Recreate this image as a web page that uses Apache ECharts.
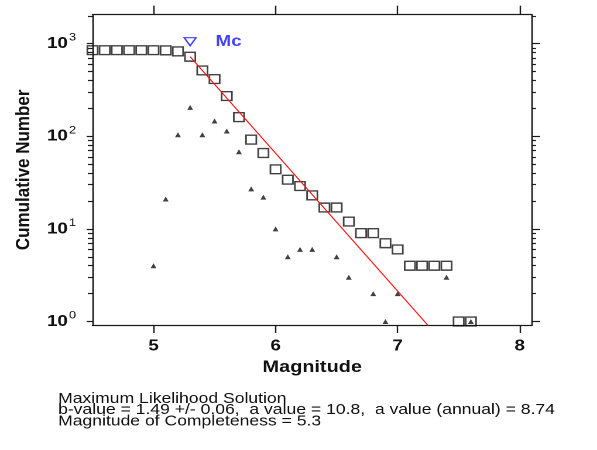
<!DOCTYPE html>
<html>
<head>
<meta charset="utf-8">
<script src="https://cdn.jsdelivr.net/npm/echarts@6/dist/echarts.min.js"></script>
<style>
  html, body { margin: 0; padding: 0; background: #fff; overflow: hidden; }
  #wrap { width: 597px; height: 450px; overflow: hidden; }
  /* the plot is laid out on a 510px-wide canvas and widened to the full page */
  #chart { width: 510px; height: 450px; transform: scaleX(1.1706); transform-origin: 0 0; }
</style>
</head>
<body>
<div id="wrap"><div id="chart"></div></div>
<script>
// Cumulative frequency-magnitude distribution (Gutenberg-Richter)
const magnitudes = [4.5, 4.6, 4.7, 4.8, 4.9, 5.0, 5.1, 5.2, 5.3, 5.4, 5.5, 5.6, 5.7, 5.8, 5.9, 6.0,
                    6.1, 6.2, 6.3, 6.4, 6.5, 6.6, 6.7, 6.8, 6.9, 7.0, 7.1, 7.2, 7.3, 7.4, 7.5, 7.6];
const cumulativeCounts = [851, 851, 851, 851, 851, 851, 847, 826, 723, 514, 415, 272, 161, 92, 66, 44,
                          34, 29, 23, 17, 17, 12, 9, 9, 7, 6, 4, 4, 4, 4, 1, 1];

// Non-cumulative counts per magnitude bin (empty bins are not plotted on the log axis)
const binMagnitudes = [5.0, 5.1, 5.2, 5.3, 5.4, 5.5, 5.6, 5.7, 5.8, 5.9, 6.0, 6.1, 6.2, 6.3,
                       6.5, 6.6, 6.8, 6.9, 7.0, 7.4, 7.6];
const binCounts = [4, 21, 104, 205, 104, 146, 114, 68, 27, 22, 10, 5, 6, 6,
                   5, 3, 2, 1, 2, 3, 1];

// Maximum-likelihood fit line, from Mc downward
const fitMagnitudes = [5.3, 7.3];
const fitCounts = [724, 0.76];

// Magnitude of completeness marker
const mcMagnitude = 5.3;
const mcMarkerCount = 1050;
const mcLabel = 'Mc';

// Axes
const xRange = [4.5, 8.1];
const yRange = [0.916, 2056];
const xTickValues = [5, 6, 7, 8];
const yTickValues = [1, 10, 100, 1000];
const yMinorTickValues = [2, 3, 4, 5, 6, 7, 8, 9, 20, 30, 40, 50, 60, 70, 80, 90,
                          200, 300, 400, 500, 600, 700, 800, 900, 2000];
const xAxisName = 'Magnitude';
const yAxisName = 'Cumulative Number';

// Fit summary
const summaryLines = [
  'Maximum Likelihood Solution',
  'b-value = 1.49 +/- 0.06,  a value = 10.8,  a value (annual) = 8.74',
  'Magnitude of Completeness = 5.3'
];

const FONT = "'Liberation Sans', Arial, Helvetica, sans-serif";
const AXIS_COLOR = '#1a1a1a';
const MC_BLUE = '#1212f2';

const chart = echarts.init(document.getElementById('chart'), null, { devicePixelRatio: 2 });

const pair = (xs, ys) => xs.map((x, i) => [x, ys[i]]);

function logYAxis(position, tickValues, tickLen, showLine, showLabels) {
  return {
    type: 'log',
    logBase: 10,
    position: position,
    min: yRange[0],
    max: yRange[1],
    splitLine: { show: false },
    axisLine: { show: showLine, onZero: false, lineStyle: { color: AXIS_COLOR, width: 1.3 } },
    axisTick: {
      show: true, inside: false, length: tickLen, customValues: tickValues,
      lineStyle: { color: AXIS_COLOR, width: 1.2 }
    },
    axisLabel: showLabels ? {
      show: true,
      customValues: tickValues,
      margin: 14,
      formatter: v => '{b|10}{s|' + Math.round(Math.log10(v)) + '}',
      rich: {
        b: { fontFamily: FONT, fontSize: 16, fontWeight: 'bold', color: '#111' },
        s: { fontFamily: FONT, fontSize: 11, color: '#111', padding: [0, 0, 12, 1] }
      }
    } : { show: false }
  };
}

function xValueAxis(position, tickLen, showLabels) {
  return {
    type: 'value',
    position: position,
    min: xRange[0],
    max: xRange[1],
    splitLine: { show: false },
    axisLine: { show: true, onZero: false, lineStyle: { color: AXIS_COLOR, width: 1.3 } },
    axisTick: {
      show: true, inside: false, length: tickLen, customValues: xTickValues,
      lineStyle: { color: AXIS_COLOR, width: 1.2 }
    },
    axisLabel: showLabels ? {
      show: true, customValues: xTickValues, margin: 13,
      fontFamily: FONT, fontSize: 16, fontWeight: 'bold', color: '#111'
    } : { show: false }
  };
}

const xAxes = [xValueAxis('bottom', 8, true), xValueAxis('top', 9, false)];
Object.assign(xAxes[0], {
  name: xAxisName, nameLocation: 'middle', nameGap: 32,
  nameTextStyle: { fontFamily: FONT, fontSize: 17, fontWeight: 'bold', color: '#111' }
});

const yAxes = [
  logYAxis('left', yTickValues, 5, true, true),
  logYAxis('left', yMinorTickValues, 4, false, false),
  logYAxis('right', yTickValues, 7, true, false),
  logYAxis('right', yMinorTickValues, 3.5, false, false)
];
Object.assign(yAxes[0], {
  name: yAxisName, nameLocation: 'middle', nameGap: 50, nameRotate: 90,
  nameTextStyle: { fontFamily: FONT, fontSize: 17, fontWeight: 'bold', color: '#111' }
});

const lineTops = [399.5, 410.5, 422];

chart.setOption({
  backgroundColor: '#fff',
  animation: false,
  grid: { left: 79, right: 55.6, top: 14.7, bottom: 125, containLabel: false },
  xAxis: xAxes,
  yAxis: yAxes,
  series: [
    {
      name: 'cumulative',
      type: 'scatter',
      xAxisIndex: 0, yAxisIndex: 0,
      clip: false,
      symbol: 'rect',
      symbolSize: 8.8,
      itemStyle: { color: 'rgba(255,255,255,0)', borderColor: '#111', borderWidth: 1.4 },
      data: pair(magnitudes, cumulativeCounts),
      z: 2
    },
    {
      name: 'per bin',
      type: 'scatter',
      xAxisIndex: 0, yAxisIndex: 0,
      clip: false,
      symbol: 'triangle',
      symbolSize: [5, 5],
      itemStyle: { color: '#111' },
      data: pair(binMagnitudes, binCounts),
      z: 3
    },
    {
      name: 'fit',
      type: 'line',
      xAxisIndex: 0, yAxisIndex: 0,
      clip: true,
      symbol: 'none',
      lineStyle: { color: '#ff1010', width: 1 },
      data: pair(fitMagnitudes, fitCounts),
      z: 4
    },
    {
      name: 'Mc',
      type: 'scatter',
      xAxisIndex: 0, yAxisIndex: 0,
      clip: false,
      symbol: 'triangle',
      symbolRotate: 180,
      symbolSize: [10, 8],
      itemStyle: { color: 'rgba(255,255,255,0)', borderColor: MC_BLUE, borderWidth: 1.3 },
      label: {
        show: true, position: 'right', distance: 16,
        formatter: mcLabel,
        fontFamily: FONT, fontSize: 16, fontWeight: 'bold', color: MC_BLUE
      },
      data: [[mcMagnitude, mcMarkerCount]],
      z: 5
    }
  ],
  graphic: summaryLines.map((t, i) => ({
    type: 'text',
    left: 49.6,
    top: lineTops[i] - 8,
    style: { text: t, fontFamily: FONT, fontSize: 15, fill: '#111' },
    silent: true
  }))
});
</script>
</body>
</html>
